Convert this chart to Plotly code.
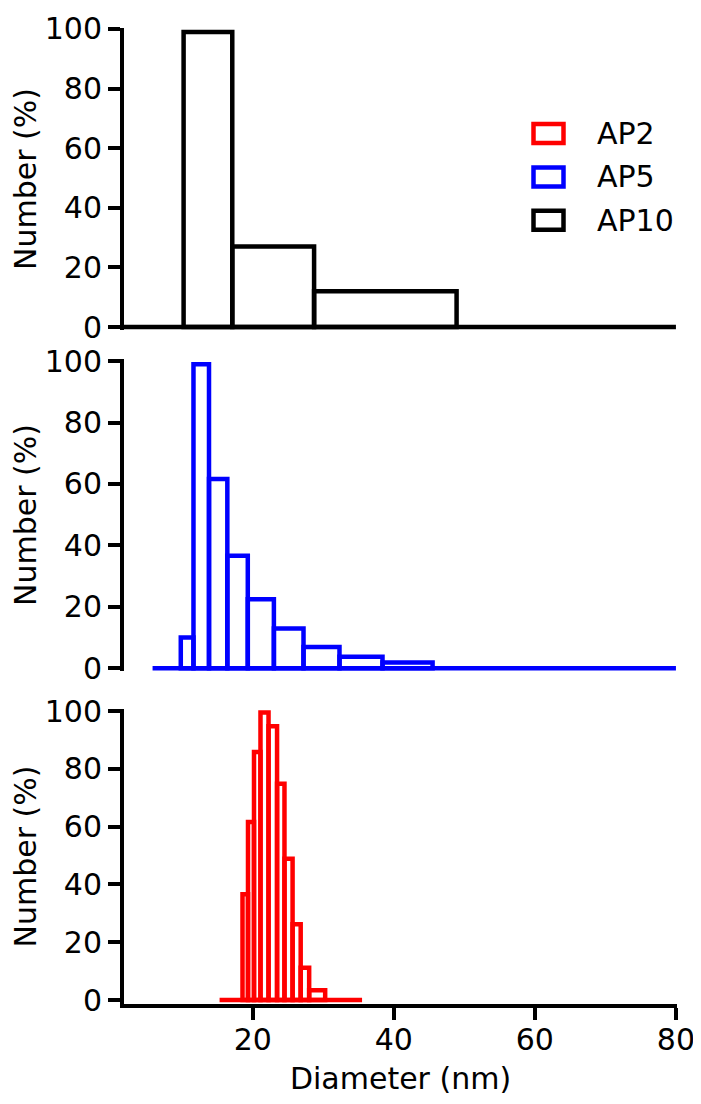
import numpy as np
import plotly.graph_objects as go

# ---------------- data ----------------
series_names = ["AP2", "AP5", "AP10"]
series_colors = ["#FF0000", "#0000FF", "#000000"]

# AP10 (top panel)
ap10_edges = [10.2, 17.1, 28.7, 48.9]
ap10_values = [99, 27, 12]
ap10_span = [0.0, 80.0]

# AP5 (middle panel)
ap5_edges = [9.8, 11.6, 13.8, 16.4, 19.3, 23.0, 27.2, 32.3, 38.4, 45.5]
ap5_values = [10.0, 99.0, 61.6, 36.6, 22.5, 12.9, 6.9, 3.7, 1.9]
ap5_span = [5.8, 80.0]

# AP2 (bottom panel)
ap2_edges = [18.55, 19.33, 20.18, 21.1, 22.24, 23.45, 24.5, 25.65, 26.8, 28.0, 30.27]
ap2_values = [36.6, 61.6, 85.8, 99.5, 94.7, 74.8, 48.9, 26.2, 11.2, 3.4]
ap2_span = [15.3, 35.5]

x_ticks = [20, 40, 60, 80]
y_ticks = [0, 20, 40, 60, 80, 100]
x_label = "Diameter (nm)"
y_label = "Number (%)"

# ---------------- figure ----------------
# the page body has an 8px margin, so the figure is drawn 8px smaller
OFF = 8
W, H = 701 - OFF, 1104 - OFF
FONT = "DejaVu Sans"
FS = 30
LW = 4

fig = go.Figure()

panels = [
    (ap10_edges, ap10_values, ap10_span, series_colors[2], "x", "y"),
    (ap5_edges, ap5_values, ap5_span, series_colors[1], "x2", "y2"),
    (ap2_edges, ap2_values, ap2_span, series_colors[0], "x3", "y3"),
]

for edges, values, span, color, xa, ya in panels:
    e = np.array(edges)
    centers = (e[:-1] + e[1:]) / 2
    widths = e[1:] - e[:-1]
    fig.add_trace(go.Scatter(
        x=span, y=[0, 0], mode="lines",
        line=dict(color=color, width=4.5),
        xaxis=xa, yaxis=ya, showlegend=False, hoverinfo="skip",
    ))
    fig.add_trace(go.Bar(
        x=centers, y=values, width=widths,
        marker=dict(color="rgba(255,255,255,0)", line=dict(color=color, width=4.5)),
        xaxis=xa, yaxis=ya, showlegend=False,
    ))


def px_x(p):
    return (p - OFF) / W


def px_y(p):
    return 1 - (p - OFF) / H


xdom = [px_x(124), px_x(677)]
xrange = [1.75, 80.15]

common_y = dict(
    showline=True, linecolor="black", linewidth=LW,
    ticks="outside", ticklen=12, tickwidth=LW, tickcolor="black",
    tickvals=y_ticks, tickfont=dict(family=FONT, size=FS, color="black"),
    showgrid=False, zeroline=False, automargin=False,
    title=dict(text=y_label, font=dict(family=FONT, size=FS, color="black"), standoff=0),
)
hidden_x = dict(showline=False, showticklabels=False, ticks="", showgrid=False,
                zeroline=False, range=xrange, domain=xdom)

fig.update_layout(
    width=W, height=H,
    margin=dict(l=0, r=0, t=0, b=0),
    paper_bgcolor="white", plot_bgcolor="white",
    barmode="overlay", showlegend=False,
    font=dict(family=FONT, size=FS, color="black"),
    xaxis=dict(hidden_x, anchor="y"),
    xaxis2=dict(hidden_x, anchor="y2", matches="x"),
    xaxis3=dict(
        range=xrange, domain=xdom, anchor="y3", matches="x",
        showline=True, linecolor="black", linewidth=LW,
        ticks="outside", ticklen=12, tickwidth=LW, tickcolor="black",
        tickvals=x_ticks, tickfont=dict(family=FONT, size=FS, color="black"),
        ticklabelstandoff=-6,
        showgrid=False, zeroline=False, automargin=False,
        title=dict(text=x_label, font=dict(family=FONT, size=FS, color="black"), standoff=13),
    ),
    yaxis=dict(common_y, domain=[px_y(330), px_y(28)], range=[-1.0, 100.3], anchor="x"),
    yaxis2=dict(common_y, domain=[px_y(671), px_y(359)], range=[-0.9, 100.7], anchor="x2"),
    yaxis3=dict(common_y, domain=[px_y(1004), px_y(709)], range=[-1.38, 100.7], anchor="x3"),
)

# legend drawn as outlined boxes + labels (top right of top panel)
legend_rows = [133.5, 177.0, 220.3]
for name, color, yc in zip(series_names, series_colors, legend_rows):
    fig.add_shape(
        type="rect", xref="paper", yref="paper",
        x0=px_x(533.5), x1=px_x(563.5), y0=px_y(yc - 9.5), y1=px_y(yc + 9.5),
        line=dict(color=color, width=4.5), fillcolor="rgba(0,0,0,0)",
    )
    fig.add_annotation(
        xref="paper", yref="paper", x=px_x(595), y=px_y(yc),
        text=name, showarrow=False, xanchor="left", yanchor="middle",
        font=dict(family=FONT, size=FS, color="black"),
    )

fig.write_html("out.html")
